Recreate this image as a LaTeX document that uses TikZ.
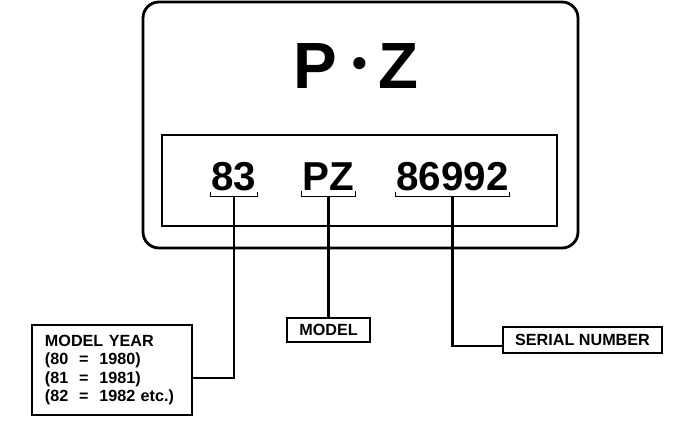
\documentclass[tikz,border=0pt]{standalone}
\usepackage{fontspec}
\setmainfont{Liberation Sans}
\usepackage{xcolor}
\usepackage{tikz}
\usetikzlibrary{positioning}
\newcommand{\BracketRise}{.12cm}
\newcommand{\PlateCorner}{.4cm}
\newcommand{\PlateName}{P\hspace{.24em}{\fontsize{30}{30}\selectfont\raisebox{8.5pt}{•}}\hspace{.18em}Z}

\begin{document}
\begin{tikzpicture}[x=.025cm,y=-.025cm,
  code/.style={font=\fontsize{28.7}{30}\selectfont\bfseries,anchor=base,inner xsep=.02cm,inner ysep=.15cm},
  tag/.style={draw,line width=1.3pt,font=\fontsize{11.5}{13}\selectfont\bfseries,inner sep=0pt},
  link/.style={line width=1.5pt},
  bracket/.style={line width=1pt}]
\useasboundingbox (0,0) rectangle (688,426);
\draw[line width=2pt,rounded corners=\PlateCorner] (143,2) rectangle (578,248);
\draw[line width=1.2pt] (162,135) rectangle (557,226);
\node[font=\fontsize{46.5}{48}\selectfont\bfseries,anchor=base] (brand) at (356,89) {\PlateName};
\node[code] (yr) at (234,190) {83};
\node[code] (mdl) at (328.5,190) {PZ};
\node[code] (sn) at (452.5,190) {86992};
\foreach \c in {yr,mdl,sn}
  \draw[bracket] ([yshift=\BracketRise]\c.south west) -- (\c.south west)
    -- (\c.south east) -- ([yshift=\BracketRise]\c.south east);
\node[tag,align=left,text width=3.35cm,minimum height=2.25cm,inner xsep=.325cm] (yeartag) at (112,370)
  {MODEL YEAR\\(80 \ = \ 1980)\\(81 \ = \ 1981)\\(82 \ = \ 1982 etc.)};
\node[tag,minimum width=2.075cm,minimum height=.6cm] (modeltag) at (328.5,330) {MODEL};
\node[tag,minimum width=3.975cm,minimum height=.65cm] (serialtag) at (582.5,340) {SERIAL NUMBER};
\draw[link] (yr.south) |- ([yshift=-.2cm]yeartag.east);
\draw[link] (mdl.south) -- (modeltag.north);
\draw[link] (sn.south) |- ([yshift=-.15cm]serialtag.west);
\end{tikzpicture}
\end{document}
